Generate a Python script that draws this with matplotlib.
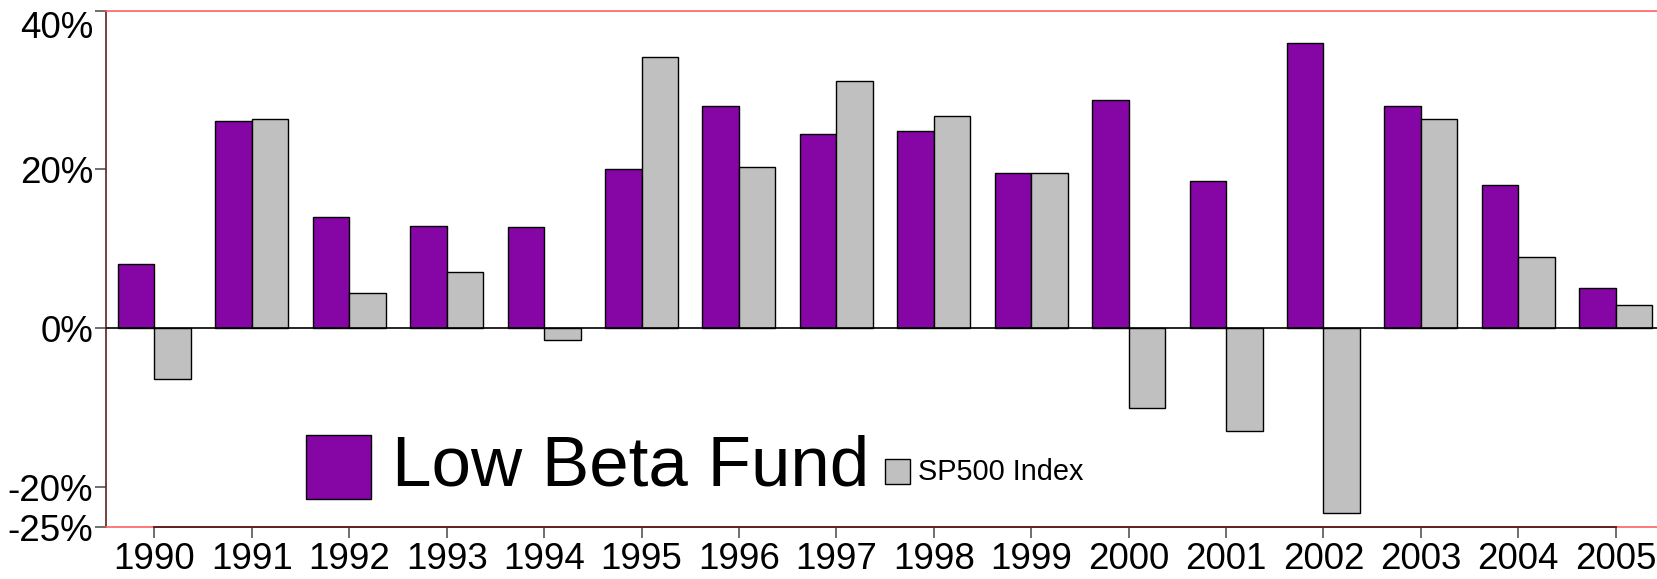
import matplotlib.pyplot as plt
import numpy as np
from matplotlib.patches import Rectangle

plt.rcParams['font.family'] = ['Liberation Sans', 'DejaVu Sans']

years = ["1990", "1991", "1992", "1993", "1994", "1995", "1996", "1997",
         "1998", "1999", "2000", "2001", "2002", "2003", "2004", "2005"]
low_beta = [8.1, 26.1, 14.0, 12.9, 12.7, 20.1, 28.0, 24.5,
            24.9, 19.5, 28.7, 18.5, 35.9, 28.0, 18.1, 5.1]
sp500 = [-6.4, 26.4, 4.5, 7.1, -1.5, 34.1, 20.3, 31.1,
         26.7, 19.6, -10.0, -12.9, -23.3, 26.4, 9.0, 2.9]
yticks = [-25, -20, 0, 20, 40]

purple = "#8505a5"
grey = "#c0c0c0"

fig = plt.figure(figsize=(16.57, 5.79), dpi=100)
ax = fig.add_axes([0.0638, 0.0898, 0.9407, 0.8919])

x = np.arange(len(years))
w = 0.375
ax.bar(x - w / 2, low_beta, w, color=purple, edgecolor="black", linewidth=1, zorder=2)
ax.bar(x + w / 2, sp500, w, color=grey, edgecolor="black", linewidth=1, zorder=2)
ax.axhline(0, color="black", linewidth=1.2, zorder=3)

ax.set_xlim(-0.5, len(years) - 0.5)
ax.set_ylim(-25, 40)
ax.set_xticks(x)
ax.set_xticklabels(years)
ax.set_yticks(yticks)
ax.set_yticklabels([f"{v}%" for v in yticks])
ax.tick_params(axis="both", labelsize=26.5, length=8, width=1.2,
               color="#555555", direction="out")
ax.tick_params(axis="y", pad=1)
ax.tick_params(axis="x", pad=3)
# le 40% est décalé vers le bas pour rester dans l'image
ax.get_yticklabels()[-1].set_va("top")

# cadre rouge, axes foncés
for s in ["top", "bottom"]:
    ax.spines[s].set_color("#ff6060")
    ax.spines[s].set_linewidth(1.2)
ax.spines["right"].set_visible(False)
ax.spines["left"].set_color("#602020")
ax.spines["left"].set_linewidth(1.2)
ax.plot([0, len(years) - 1], [-25, -25], color="#602020", linewidth=1.4,
        clip_on=False, zorder=4)

# légende dessinée à la main (tailles de police différentes)
ax.add_patch(Rectangle((0.1282, 0.054), 0.0417, 0.1243, transform=ax.transAxes,
                       facecolor=purple, edgecolor="black", linewidth=1, zorder=5))
ax.text(0.1835, 0.115, "Low Beta Fund", transform=ax.transAxes, fontsize=51,
        va="center", ha="left", zorder=5)
ax.add_patch(Rectangle((0.4999, 0.083), 0.016, 0.0484, transform=ax.transAxes,
                       facecolor=grey, edgecolor="black", linewidth=1, zorder=5))
ax.text(0.5211, 0.106, "SP500 Index", transform=ax.transAxes, fontsize=20.8,
        va="center", ha="left", zorder=5)

plt.savefig("out.png", dpi=100)
plt.close()
